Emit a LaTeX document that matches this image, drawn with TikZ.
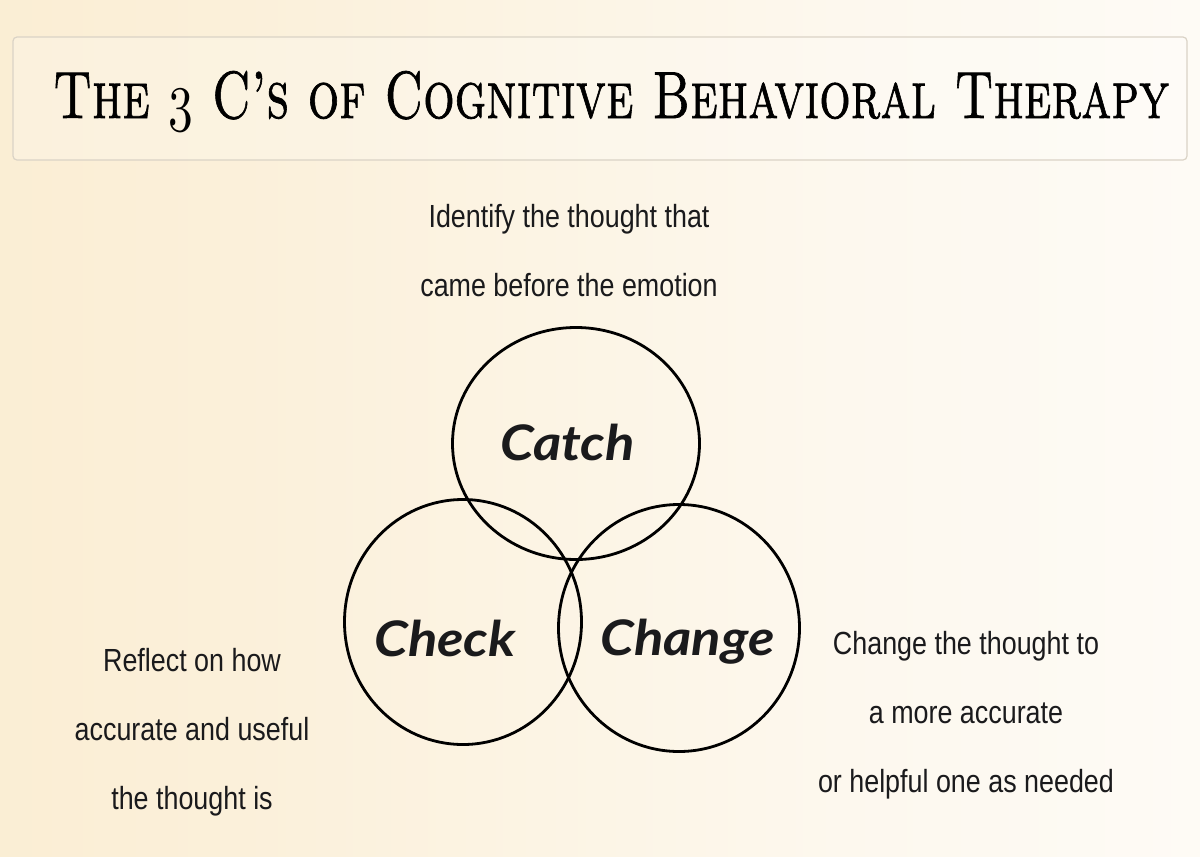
\documentclass[tikz,border=0pt]{standalone}
\usepackage{fontspec}
\usepackage{graphicx}
\usetikzlibrary{shapes.geometric}

\newfontfamily\narrowsans[FakeStretch=0.84]{Liberation Sans}
\newfontfamily\labelfont[FakeStretch=1.11]{Lato}
\newfontfamily\titlefont{lmromancaps10-regular.otf}[FakeBold=1.2]
\newcommand{\oldthree}{{\usefont{OML}{cmm}{m}{it}3}}

\definecolor{bgtan}{RGB}{249,232,198}
\definecolor{bgmid}{RGB}{251,240,218}
\definecolor{bglight}{RGB}{253,248,238}
\definecolor{bgwhite}{RGB}{254,252,249}
\definecolor{boxline}{RGB}{218,211,198}
\definecolor{inktext}{RGB}{26,26,28}

\pgfdeclarehorizontalshading{bgshade}{100bp}{color(0bp)=(bgtan); color(35bp)=(bgmid); color(60bp)=(bglight); color(82bp)=(bgwhite); color(100bp)=(bgwhite)}

\begin{document}
\begin{tikzpicture}[
	x=1pt, y=-1pt,
	titlebox/.style={
		draw=boxline,
		line width=1.2pt,
		rounded corners=4pt,
		fill=white,
		fill opacity=0.2
	},
	circ/.style={
		ellipse,
		draw=black,
		line width=2.8pt,
		inner sep=0pt
	},
	clabel/.style={
		anchor=base,
		inner sep=0pt,
		text=inktext,
		font=\labelfont\bfseries\itshape\fontsize{49pt}{49pt}\selectfont
	},
	desc/.style={
		anchor=base,
		inner sep=0pt,
		align=center,
		text=inktext,
		font=\narrowsans\fontsize{32pt}{69pt}\selectfont
	},
]

%% Background %%
\useasboundingbox (0,0) rectangle (1200,857);
\shade[shading=bgshade] (0,0) rectangle (1200,857);

%% Title %%
\draw[titlebox] (13,37) rectangle (1187,160);
\node[anchor=base west, inner sep=0pt] (title) at (53,118)
	{\resizebox{1116pt}{47pt}{\titlefont The \oldthree\ C’s of Cognitive Behavioral Therapy}};

%% Circles %%
\node[circ, minimum width=247pt, minimum height=232pt] (catch) at (576,443.5) {};
\node[circ, minimum width=237pt, minimum height=245pt] (check) at (463,622) {};
\node[circ, minimum width=241pt, minimum height=247pt] (change) at (679,628) {};

% circle labels %
\node[clabel] (catchlabel) at (567.5,460) {Catch};
\node[clabel] (checklabel) at (445,656.5) {Check};
\node[clabel] (changelabel) at (687.5,655) {Change};

%% Descriptions %%
% anchor sits on the last line %
\node[desc] (catchtext) at (569,296) {Identify the thought that\\came before the emotion};
\node[desc] (checktext) at (192,809) {Reflect on how\\accurate and useful\\the thought is};
\node[desc] (changetext) at (966,792) {Change the thought to\\a more accurate\\or helpful one as needed};

\end{tikzpicture}
\end{document}
